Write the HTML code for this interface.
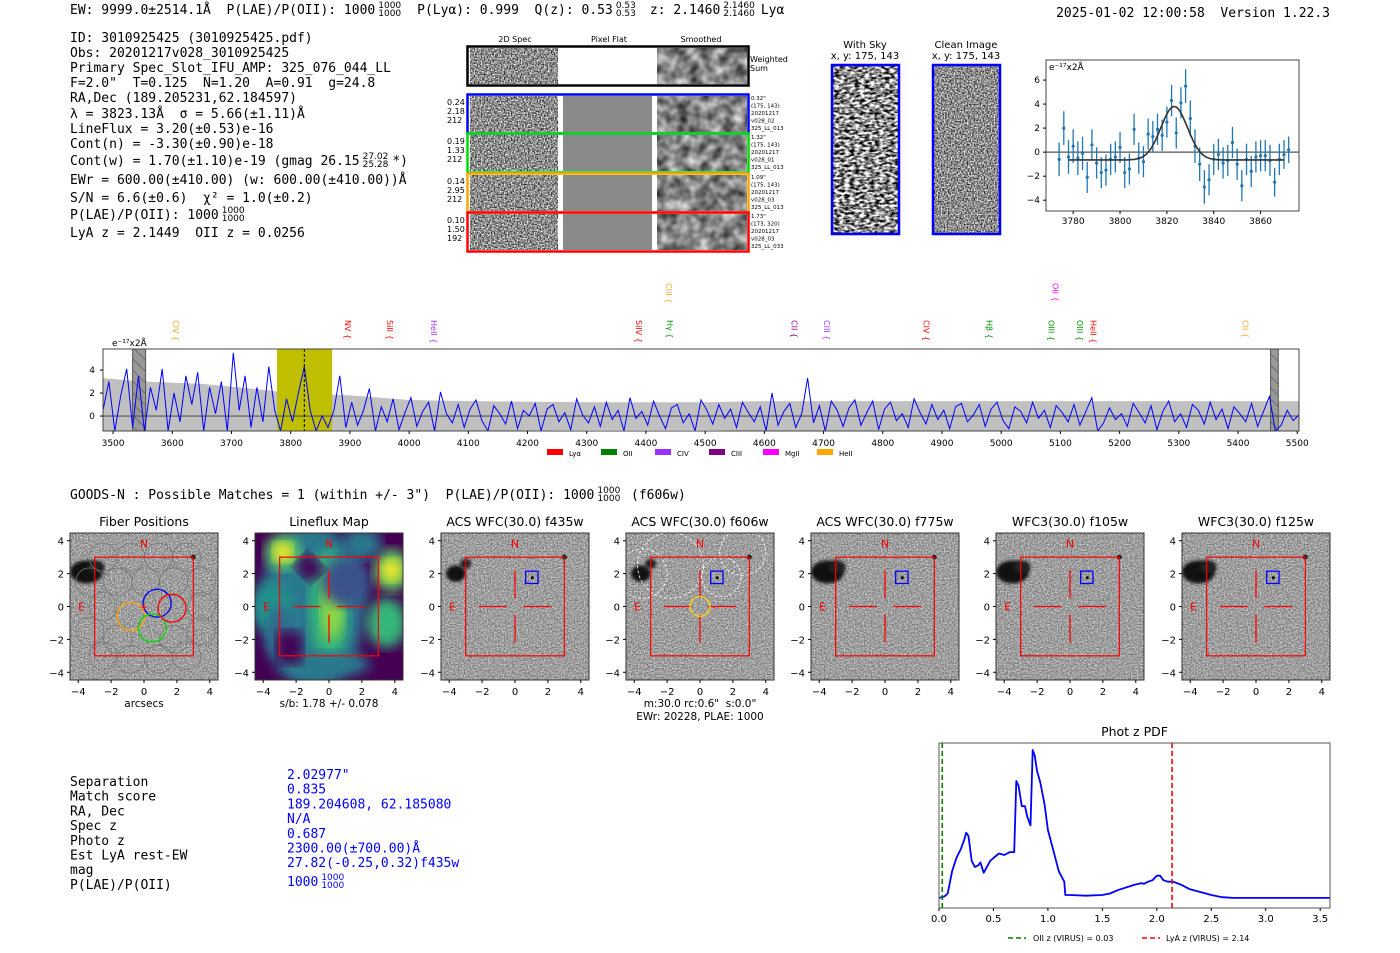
<!DOCTYPE html>
<html><head><meta charset="utf-8"><title>Detection report</title>
<style>
html,body{margin:0;padding:0;background:#fff;}
svg{display:block;}
text{white-space:pre;}
filter{color-interpolation-filters:sRGB;}
.mono{font-family:"DejaVu Sans Mono","Liberation Mono",monospace;font-size:13px;}
.sans{font-family:"DejaVu Sans","Liberation Sans",sans-serif;}
</style></head>
<body>
<svg id="root" width="1400" height="953" viewBox="0 0 1400 953" xmlns="http://www.w3.org/2000/svg" xml:space="preserve">
<defs>
<filter id="nz" x="0" y="0" width="100%" height="100%" color-interpolation-filters="sRGB"><feTurbulence type="fractalNoise" baseFrequency="0.7" numOctaves="1" seed="3"/><feColorMatrix type="matrix" values="1.8 0 0 0 -0.35  1.8 0 0 0 -0.35  1.8 0 0 0 -0.35  0 0 0 0 1"/></filter>
<filter id="nzs" x="0" y="0" width="100%" height="100%" color-interpolation-filters="sRGB"><feTurbulence type="fractalNoise" baseFrequency="0.09" numOctaves="2" seed="5"/><feColorMatrix type="matrix" values="1.0 0 0 0 0.02  1.0 0 0 0 0.02  1.0 0 0 0 0.02  0 0 0 0 1"/></filter>
<filter id="nzsky" x="0" y="0" width="100%" height="100%" color-interpolation-filters="sRGB"><feTurbulence type="fractalNoise" baseFrequency="0.2 0.4" numOctaves="2" seed="8"/><feColorMatrix type="matrix" values="2.6 0 0 0 -0.75  2.6 0 0 0 -0.75  2.6 0 0 0 -0.75  0 0 0 0 1"/></filter>
<filter id="nzc" x="0" y="0" width="100%" height="100%" color-interpolation-filters="sRGB"><feTurbulence type="fractalNoise" baseFrequency="0.7" numOctaves="1" seed="11"/><feColorMatrix type="matrix" values="0.8 0 0 0 0.22  0.8 0 0 0 0.22  0.8 0 0 0 0.22  0 0 0 0 1"/></filter>
<filter id="blur2"><feGaussianBlur stdDeviation="1.5"/></filter>
<filter id="blur6"><feGaussianBlur stdDeviation="6"/></filter>
<clipPath id="specclip"><rect x="103" y="349" width="1196" height="82"/></clipPath>
<clipPath id="pdfclip"><rect x="939" y="743" width="391" height="165"/></clipPath>
<pattern id="hatch" width="8" height="8" patternUnits="userSpaceOnUse" patternTransform="rotate(-45)"><rect width="8" height="8" fill="#999"/><line x1="0" y1="0" x2="0" y2="8" stroke="#444" stroke-width="1"/></pattern>
</defs>
</svg>
<script>
// ---------------- DATA ----------------
const gaussWave = [3774,3776,3778,3780,3782,3784,3786,3788,3790,3792,3794,3796,3798,3800,3802,3804,3806,3808,3810,3812,3814,3816,3818,3820,3822,3824,3826,3828,3830,3832,3834,3836,3838,3840,3842,3844,3846,3848,3850,3852,3854,3856,3858,3860,3862,3864,3866,3868,3870,3872];
const gaussFlux = [-0.6,2.0,-0.4,0.5,-0.5,-0.1,-2.1,0.6,-0.9,-1.7,-1.5,-0.6,-0.4,0.4,-1.7,-1.4,1.9,-0.5,-0.8,1.5,1.3,1.9,1.4,2.5,4.3,1.6,4.1,5.5,2.8,0.5,-1.0,-2.9,-2.3,-0.6,-0.2,-0.9,-0.7,0.8,-1.0,-2.8,-0.6,-1.6,-0.4,-0.3,-0.3,-0.7,-2.5,-0.6,-0.2,0.2];
const gaussErr = [1.4,1.4,1.4,1.4,1.4,1.4,1.3,1.3,1.3,1.3,1.3,1.3,1.3,1.3,1.3,1.3,1.3,1.3,1.3,1.3,1.3,1.3,1.3,1.3,1.3,1.3,1.3,1.4,1.5,1.4,1.4,1.4,1.3,1.3,1.3,1.3,1.3,1.3,1.3,1.3,1.3,1.3,1.3,1.3,1.3,1.3,1.2,1.3,1.2,1.1];
const gaussXTicks = [3780,3800,3820,3840,3860];
const gaussYTicks = [-4,-2,0,2,4,6];
const fitCenter = 3823.13, fitSigma = 5.66, fitAmp = 4.45, fitBase = -0.65;

const specStart = 3483, specStep = 10;
const specFlux = [0.5,3,-1.3,1.8,4.1,-1,3.5,-1.3,2.5,0.5,4.1,-1.3,2,-0.5,3.5,1,3.8,-1.3,2.5,0.2,3,-1.3,5.5,0.5,3.5,-1,2.5,-0.5,4.3,0.5,-1.3,1.5,-0.5,2,4.3,0.5,-1.3,0,-1,0.5,3.5,-1,
1.2,-0.8,0.5,2.4,-1.3,0.8,-0.5,1.5,-1.2,0.3,1.6,-0.9,0.4,1.2,-1.3,2.1,0.2,-0.6,1.0,-1.0,0.6,1.4,-0.4,-1.3,0.9,0.2,-0.7,1.3,-1.1,0.5,0.0,1.1,-1.3,0.6,1.0,-0.5,0.3,-1.2,1.5,0.1,-0.6,0.8,-0.9,1.2,-0.3,0.5,-1.3,1.6,-0.2,0.4,-0.8,1.3,0.0,-1.1,0.7,1.0,-0.6,0.2,-1.3,1.4,0.5,-0.7,1.0,-0.2,0.6,-1.0,1.2,0.3,-0.5,0.8,-1.3,2.0,-0.8,0.4,1.1,-1.0,0.2,3.3,-0.6,0.9,-1.3,1.3,0.5,-0.9,0.7,1.4,-0.8,0.3,1.3,-1.2,0.6,1.2,-0.4,0.2,-1.0,1.5,0.3,-0.7,1.0,-0.3,0.5,-1.1,0.8,1.1,-0.5,0.1,1.0,-0.9,0.6,1.2,-0.4,-1.1,0.8,0.4,-0.6,1.2,-0.2,0.5,-1.0,0.9,0.3,-0.5,1.0,-0.8,0.4,1.6,-1.3,-0.6,0.7,-0.3,0.2,
-0.9,1.1,0.3,-0.6,0.9,-1.2,0.4,1.3,-0.5,0.2,-1.0,1.0,0.5,-0.7,1.2,-0.3,0.6,-1.1,0.8,0.2,-0.5,1.1,-0.9,0.4,1.7,-1.3,-0.8,0.5,-0.4,0.1];
const errWave = [3483,3550,3650,3750,3800,3900,3950,4000,4100,4300,4500,4600,4800,5000,5200,5400,5503];
const errVal  = [3.3,3.0,2.8,2.3,2.0,1.8,1.6,1.4,1.3,1.2,1.2,1.3,1.3,1.3,1.3,1.3,1.3];
const specXTicks = [3500,3600,3700,3800,3900,4000,4100,4200,4300,4400,4500,4600,4700,4800,4900,5000,5100,5200,5300,5400,5500];
const specYTicks = [0,2,4];
const lineLabels = ["CIV","NV","SiII","HeII","SiIV","CIII","Hγ","CII","CIII","CIV","Hβ","OIII","OII","OIII","HeII","CII"];
const lineWaves  = [3606,3897,3968,4042,4388,4439,4441,4651,4706,4874,4980,5085,5092,5133,5156,5413];
const lineColors = ["#f5a623","#f00","#f00","#9b30ff","#f00","#f5a623","#090","#8b008b","#9b30ff","#f00","#090","#090","#f0f","#090","#f00","#f5a623"];
const lineHigh   = [0,0,0,0,0,1,0,0,0,0,0,0,1,0,0,0];
const legendNames = ["Lyα","OII","CIV","CIII","MgII","HeII"];
const legendColors = ["#f00","#008000","#9b30ff","#800080","#f0f","#ffa500"];

const pdfZ = [0,0.05,0.08,0.12,0.16,0.2,0.23,0.25,0.27,0.3,0.33,0.36,0.38,0.41,0.44,0.47,0.5,0.55,0.6,0.65,0.69,0.71,0.73,0.76,0.79,0.81,0.84,0.86,0.88,0.9,0.93,0.97,1.0,1.05,1.1,1.15,1.16,1.2,1.35,1.5,1.57,1.65,1.8,1.86,1.88,1.92,1.96,2.0,2.03,2.06,2.1,2.15,2.22,2.3,2.4,2.5,2.6,2.7,3.0,3.6];
const pdfP = [0.0,0.01,0.03,0.18,0.27,0.33,0.39,0.44,0.42,0.25,0.21,0.22,0.24,0.17,0.21,0.25,0.27,0.30,0.29,0.31,0.31,0.79,0.76,0.62,0.62,0.55,0.49,1.0,0.96,0.86,0.78,0.63,0.46,0.32,0.18,0.11,0.02,0.02,0.015,0.02,0.03,0.055,0.09,0.1,0.095,0.11,0.12,0.15,0.15,0.12,0.11,0.11,0.09,0.06,0.04,0.02,0.005,0.0,0.0,0.0];
const pdfXTicks = [0.0,0.5,1.0,1.5,2.0,2.5,3.0,3.5];
const oiiZ = 0.03, lyaZ = 2.14;

const cutTitles = ["Fiber Positions","Lineflux Map","ACS WFC(30.0) f435w","ACS WFC(30.0) f606w","ACS WFC(30.0) f775w","WFC3(30.0) f105w","WFC3(30.0) f125w"];
const cutTicks = [-4,-2,0,2,4];

const tableLabels = ["Separation","Match score","RA, Dec","Spec z","Photo z","Est LyA rest-EW","mag","P(LAE)/P(OII)"];
const tableValues = ["2.02977\"","0.835","189.204608, 62.185080","N/A","0.687","2300.00(±700.00)Å","27.82(-0.25,0.32)f435w","1000"];

// ---------------- HELPERS ----------------
const NS = "http://www.w3.org/2000/svg";
const root = document.getElementById('root');
function mk(tag, attrs, parent, txt){
  const e = document.createElementNS(NS, tag);
  for (const k in attrs) e.setAttribute(k, attrs[k]);
  if (txt !== undefined) e.textContent = txt;
  (parent || root).appendChild(e);
  return e;
}
function grp(name, parent){
  const g = mk('g', {}, parent);
  
  
  return g;
}
function txt(parent, x, y, s, cls, extra, name){
  const a = Object.assign({x:x, y:y}, extra||{});
  if (cls) a['class'] = cls;
  const t = mk('text', a, parent, s);
  
  
  return t;
}
function fracText(parent, x, y, main, top, bot, cls, fill, name){
  const t = txt(parent, x, y, main, cls, {fill:fill||'#000'}, name);
  const w = t.getComputedTextLength();
  const a = txt(parent, x+w+3, y-6, top, 'sans', {'font-size':9, fill: fill||'#000'}, name+'-upper');
  txt(parent, x+w+3, y+2, bot, 'sans', {'font-size':9, fill: fill||'#000'}, name+'-lower');
  return x+w+3+Math.max(a.getComputedTextLength(),10);
}

// ---------------- HEADER ----------------
const hdr = grp('header');
let x2 = fracText(hdr, 70, 14, "EW: 9999.0±2514.1Å  P(LAE)/P(OII): 1000", "1000","1000",'mono',null,'header-plae');
let x3 = fracText(hdr, x2+16, 14, "P(Lyα): 0.999  Q(z): 0.53", "0.53","0.53",'mono',null,'header-qz');
let x4 = fracText(hdr, x3+14, 14, "z: 2.1460", "2.1460","2.1460",'mono',null,'header-z');
txt(hdr, x4+6, 14, "Lyα", 'mono', {}, 'header-line');
txt(hdr, 1330, 17, "2025-01-02 12:00:58  Version 1.22.3", 'mono', {'text-anchor':'end'}, 'header-version');

// ---------------- INFO BLOCK ----------------
const info = grp('info-block');
const infoLines = [
 [42,"ID: 3010925425 (3010925425.pdf)"],[57,"Obs: 20201217v028_3010925425"],[72,"Primary Spec_Slot_IFU_AMP: 325_076_044_LL"],
 [87,"F=2.0\"  T=0.125  N=1.20  A=0.91  g=24.8"],[102,"RA,Dec (189.205231,62.184597)"],[118,"λ = 3823.13Å  σ = 5.66(±1.11)Å"],
 [133,"LineFlux = 3.20(±0.53)e-16"],[148,"Cont(n) = -3.30(±0.90)e-18"]];
infoLines.forEach(l=>txt(info,70,l[0],l[1],'mono',{},'info-line'));
let cx = fracText(info,70,165,"Cont(w) = 1.70(±1.10)e-19 (gmag 26.15","27.02","25.28",'mono',null,'info-cont-w');
txt(info,cx+4,165,"*)",'mono',{},'info-line');
txt(info,70,184,"EWr = 600.00(±410.00) (w: 600.00(±410.00))Å",'mono',{},'info-ewr');
txt(info,70,202,"S/N = 6.6(±0.6)  χ² = 1.0(±0.2)",'mono',{},'info-sn');
fracText(info,70,219,"P(LAE)/P(OII): 1000","1000","1000",'mono',null,'info-plae');
txt(info,70,237,"LyA z = 2.1449  OII z = 0.0256",'mono',{},'info-z');

// ---------------- 2D SPECTRA ----------------
const sp2 = grp('spectra-2d');
txt(sp2,515,42,"2D Spec",'sans',{'font-size':8,'text-anchor':'middle'},'col-2dspec');
txt(sp2,609,42,"Pixel Flat",'sans',{'font-size':8,'text-anchor':'middle'},'col-pixelflat');
txt(sp2,701,42,"Smoothed",'sans',{'font-size':8,'text-anchor':'middle'},'col-smoothed');
function cellRow(y,h,color,flatGray,name){
  const g = grp(name, sp2);
  mk('rect',{x:470,y:y,width:88,height:h,fill:'#888',filter:'url(#nz)'},g);
  if (flatGray) mk('rect',{x:563,y:y,width:89,height:h,fill:'#8a8a8a'},g);
  mk('rect',{x:657,y:y,width:90,height:h,fill:'#888',filter:'url(#nzs)'},g);
  const b = mk('rect',{x:467.5,y:y-1.5,width:281,height:h+3,fill:'none',stroke:color,'stroke-width':2.5},g);
   
}
cellRow(48,36,'#000',false,'weighted-sum-row');
txt(sp2,750,62,"Weighted",'sans',{'font-size':8},'weighted-label');
txt(sp2,750,71,"Sum",'sans',{'font-size':8},'weighted-label');
const rows = [[96,'#00f',["0.24","2.18","212"],["0.32\"","(175, 143)","20201217","v028_02","325_LL_013"]],
 [135,'#0d0',["0.19","1.33","212"],["1.32\"","(175, 143)","20201217","v028_01","325_LL_013"]],
 [175,'#ffa500',["0.14","2.95","212"],["1.09\"","(175, 143)","20201217","v028_03","325_LL_013"]],
 [214,'#f00',["0.10","1.50","192"],["1.73\"","(173, 320)","20201217","v028_03","325_LL_033"]]];
rows.forEach((r,i)=>{
  cellRow(r[0],36,r[1],true,'fiber-row-'+(i+1));
  r[2].forEach((s,j)=>txt(sp2,447,r[0]+9+j*9,s,'sans',{'font-size':8},'fiber-stat'));
  r[3].forEach((s,j)=>txt(sp2,751,r[0]+4+j*7.5,s,'sans',{'font-size':5.5},'fiber-info'));
});

// sky / clean
const sk = grp('sky-images');
txt(sk,865,48,"With Sky",'sans',{'font-size':10,'text-anchor':'middle'},'with-sky-title');
txt(sk,865,59,"x, y: 175, 143",'sans',{'font-size':10,'text-anchor':'middle'},'with-sky-coords');
mk('rect',{x:832,y:65,width:67,height:169,fill:'#888',filter:'url(#nzsky)'},sk);
mk('rect',{x:832,y:65,width:67,height:169,fill:'none',stroke:'#00f','stroke-width':2.5},sk);
txt(sk,966,48,"Clean Image",'sans',{'font-size':10,'text-anchor':'middle'},'clean-title');
txt(sk,966,59,"x, y: 175, 143",'sans',{'font-size':10,'text-anchor':'middle'},'clean-coords');
mk('rect',{x:933,y:65,width:67,height:169,fill:'#888',filter:'url(#nz)'},sk);
mk('rect',{x:933,y:65,width:67,height:169,fill:'none',stroke:'#00f','stroke-width':2.5},sk);

// ---------------- GAUSS FIT ----------------
(function(){
  const g = grp('line-fit-chart');
  const L=1046,R=1299,T=60,B=211, x0=3768.4,x1=3876.4,y0=-4.9,y1=7.67;
  const X=v=>L+(v-x0)/(x1-x0)*(R-L), Y=v=>B-(v-y0)/(y1-y0)*(B-T);
  mk('line',{x1:L,x2:R,y1:Y(0),y2:Y(0),stroke:'#555','stroke-width':1.2},g);
  gaussWave.forEach((w,i)=>{
    const e=mk('line',{x1:X(w),x2:X(w),y1:Y(gaussFlux[i]-gaussErr[i]),y2:Y(gaussFlux[i]+gaussErr[i]),stroke:'#1f77b4','stroke-width':1.3},g);
     
    const c=mk('circle',{cx:X(w),cy:Y(gaussFlux[i]),r:1.6,fill:'#1f77b4'},g);
     
  });
  let d='';
  for(let w=3778; w<=3870; w+=0.5){const v=fitBase+fitAmp*Math.exp(-0.5*Math.pow((w-fitCenter)/fitSigma,2)); d+=(d?'L':'M')+X(w).toFixed(1)+','+Y(v).toFixed(1);}
  const p=mk('path',{d:d,fill:'none',stroke:'#333','stroke-width':1.6},g);
   
  mk('rect',{x:L,y:T,width:R-L,height:B-T,fill:'none',stroke:'#444','stroke-width':1},g);
  gaussXTicks.forEach(t=>{mk('line',{x1:X(t),x2:X(t),y1:B,y2:B+3,stroke:'#000'},g);txt(g,X(t),B+13,String(t),'sans',{'font-size':9,'text-anchor':'middle'},'x-tick-label');});
  gaussYTicks.forEach(t=>{mk('line',{x1:L-3,x2:L,y1:Y(t),y2:Y(t),stroke:'#000'},g);txt(g,L-6,Y(t)+3,(t<0?'−':'')+Math.abs(t),'sans',{'font-size':9,'text-anchor':'end'},'y-tick-label');});
  txt(g,L+3,T+10,"e⁻¹⁷x2Å",'sans',{'font-size':9},'y-unit-label');
})();

// ---------------- 1D SPECTRUM ----------------
(function(){
  const g = grp('full-spectrum-chart');
  const L=103,R=1299,T=349,B=431, x0=3483,x1=5503,y0=-1.3,y1=5.83;
  const X=v=>L+(v-x0)/(x1-x0)*(R-L), Y=v=>B-(v-y0)/(y1-y0)*(B-T);
  const c = grp('spectrum-plot-area', g); c.setAttribute('clip-path','url(#specclip)');
  let up='',dn='';
  errWave.forEach((w,i)=>{up+=(up?'L':'M')+X(w)+','+Y(errVal[i]);});
  for(let i=errWave.length-1;i>=0;i--) dn+='L'+X(errWave[i])+','+Y(-errVal[i]);
  const band=mk('path',{d:up+dn+'Z',fill:'#c0c0c0'},c);
   
  const yb=mk('rect',{x:X(3777),y:T,width:X(3870)-X(3777),height:B-T,fill:'#bfbf00'},c);
   
  [[3533,3555],[5455,5468]].forEach(m=>{const r=mk('rect',{x:X(m[0]),y:T,width:X(m[1])-X(m[0]),height:B-T,fill:'url(#hatch)',stroke:'#555'},c);});
  mk('line',{x1:L,x2:R,y1:Y(0),y2:Y(0),stroke:'#555','stroke-width':1.2},c);
  let d='';
  specFlux.forEach((v,i)=>{d+=(d?'L':'M')+X(specStart+i*specStep).toFixed(1)+','+Y(v).toFixed(1);});
  const p=mk('path',{d:d,fill:'none',stroke:'#00f','stroke-width':1},c);
   
  mk('line',{x1:X(3823),x2:X(3823),y1:T,y2:B,stroke:'#000','stroke-dasharray':'3,2','stroke-width':1},c);
  mk('rect',{x:L,y:T,width:R-L,height:B-T,fill:'none',stroke:'#444','stroke-width':1},g);
  specXTicks.forEach(t=>{mk('line',{x1:X(t),x2:X(t),y1:B,y2:B+3,stroke:'#000'},g);txt(g,X(t),B+15,String(t),'sans',{'font-size':9,'text-anchor':'middle'},'x-tick-label');});
  specYTicks.forEach(t=>{mk('line',{x1:L-3,x2:L,y1:Y(t),y2:Y(t),stroke:'#000'},g);txt(g,L-8,Y(t)+3,String(t),'sans',{'font-size':9,'text-anchor':'end'},'y-tick-label');});
  txt(g,112,346,"e⁻¹⁷x2Å",'sans',{'font-size':9},'y-unit-label');
  lineLabels.forEach((s,i)=>{
    const x=X(lineWaves[i]), yt= lineHigh[i]?283:320;
    txt(g,0,0,s+' {','sans',{'font-size':8,fill:lineColors[i],transform:'translate('+(x-3)+','+yt+') rotate(90)'},'emission-line-label');
  });
  legendNames.forEach((s,i)=>{
    const lx=547+i*54;
    const r=mk('rect',{x:lx,y:449,width:16,height:6,fill:legendColors[i]},g);
     
    txt(g,lx+22,456,s,'sans',{'font-size':7},'legend-entry');
  });
})();

// ---------------- CUTOUTS ----------------
const cut = grp('cutouts');
fracText(cut,70,499,"GOODS-N : Possible Matches = 1 (within +/- 3\")  P(LAE)/P(OII): 1000","1000","1000",'mono',null,'catalog-header');
txt(cut,631,499,"(f606w)",'mono',{},'catalog-filter');
const panelX=[70,255,441,626,811,996,1182];
panelX.forEach((px,i)=>{
  const g=grp('cutout-'+(i+1),cut);
  const W=148,T=533,H=147, cxp=px+W/2, cyp=T+H/2, s=W/9;
  const X=v=>cxp+v*s, Y=v=>cyp-v*s;
  const clipId='cc'+i; const cp=mk('clipPath',{id:clipId},g); mk('rect',{x:px,y:T,width:W,height:H},cp);
  const ig=mk('g',{'clip-path':'url(#'+clipId+')'},g);
  if(i===1){
    mk('rect',{x:px,y:T,width:W,height:H,fill:'#440154'},ig);
    const blobs=[[-1,0,3.2,5,'#2a788e'],[0,0,1.2,3.5,'#35b779'],[0.2,0,0.7,2,'#90d743'],[1,1.5,1.5,1.5,'#3b528b'],[-3.5,0,1.3,1.5,'#21918c'],[-2.8,3.3,1.1,1.1,'#5ec962'],[-2.8,3.3,0.6,0.6,'#fde725'],[3.8,2.2,1.1,1.3,'#5ec962'],[3.8,2.2,0.6,0.7,'#fde725'],[3.5,-1,1.2,1.5,'#35b779'],[0,-3.5,2.5,0.8,'#2a788e'],[2,3.8,1.2,1,'#2a788e'],[-3,-1.5,0.8,1.5,'#31688e']];
    blobs.forEach(b=>mk('ellipse',{cx:X(b[0]),cy:Y(b[1]),rx:b[2]*s,ry:b[3]*s,fill:b[4],filter:'url(#blur6)'},ig));
    mk('rect',{x:X(-2),y:Y(3),width:1.5*s,height:1.3*s,fill:'#440154',filter:'url(#blur6)',transform:'rotate(45 '+X(-1.2)+' '+Y(2.3)+')'},ig);
    mk('rect',{x:X(-3.2),y:Y(-1.5),width:1.6*s,height:2*s,fill:'#440154',filter:'url(#blur6)'},ig);
  } else {
    mk('rect',{x:px,y:T,width:W,height:H,fill:'#999',filter:'url(#nzc)'},ig);
    if(i===0||i>=4){
      mk('ellipse',{cx:X(-3.5),cy:Y(2.1),rx:1.0*s,ry:0.7*s,fill:'#111',filter:'url(#blur2)'},ig);
      mk('ellipse',{cx:X(-2.9),cy:Y(2.4),rx:0.5*s,ry:0.4*s,fill:'#222',filter:'url(#blur2)'},ig);
    } else {
      mk('ellipse',{cx:X(-3.6),cy:Y(2.0),rx:0.6*s,ry:0.5*s,fill:'#111',filter:'url(#blur2)'},ig);
      mk('ellipse',{cx:X(-3.0),cy:Y(2.6),rx:0.35*s,ry:0.3*s,fill:'#222',filter:'url(#blur2)'},ig);
    }
    mk('circle',{cx:X(3),cy:Y(3),r:2.5,fill:'#222'},ig);
    if(i===3){
      [[-3.5,2,1.5],[-1.8,2.5,2],[2.6,3.3,1.4],[1.3,1.8,1.2]].forEach(c=>mk('circle',{cx:X(c[0]),cy:Y(c[1]),r:c[2]*s,fill:'none',stroke:'#fff','stroke-dasharray':'3,2','stroke-width':0.8},ig));
    }
  }
  if(i===0){
    const fib=[[-2.5,3],[-0.8,3],[0.9,3],[2.6,3],[-3.3,1.5],[-1.6,1.5],[0.1,1.5],[1.8,1.5],[3.5,1.5],[-2.5,0],[3.5,0],[-3.3,-1.5],[-1.6,-2],[1.8,-2],[3.5,-1.5],[-2.5,-3],[-0.8,-3.2],[0.9,-3.2],[2.6,-3]];
    fib.forEach(f=>mk('circle',{cx:X(f[0]),cy:Y(f[1]),r:0.85*s,fill:'none',stroke:'#777','stroke-width':0.7},ig));
    [[0.8,0.2,'#00f'],[-0.8,-0.6,'#ffa500'],[0.5,-1.3,'#0d0'],[1.7,-0.1,'#f00']].forEach(f=>{const c=mk('circle',{cx:X(f[0]),cy:Y(f[1]),r:0.85*s,fill:'none',stroke:f[2],'stroke-width':1.3},ig);});
    txt(ig,X(0),Y(0)+4,"+",'sans',{'font-size':11,fill:'#f00','text-anchor':'middle'},'center-marker');
  }
  mk('rect',{x:X(-3),y:Y(3),width:6*s,height:6*s,fill:'none',stroke:'#f00','stroke-width':1.2},ig);
  if(i>0){
    mk('line',{x1:X(-2.2),x2:X(-0.5),y1:Y(0),y2:Y(0),stroke:'#f00','stroke-width':1.3},ig);
    mk('line',{x1:X(0.5),x2:X(2.2),y1:Y(0),y2:Y(0),stroke:'#f00','stroke-width':1.3},ig);
    mk('line',{x1:X(0),x2:X(0),y1:Y(2.2),y2:Y(0.5),stroke:'#f00','stroke-width':1.3},ig);
    mk('line',{x1:X(0),x2:X(0),y1:Y(-0.5),y2:Y(-2.2),stroke:'#f00','stroke-width':1.3},ig);
  }
  if(i>=2){
    mk('rect',{x:X(0.65),y:Y(2.15),width:0.75*s,height:0.75*s,fill:'none',stroke:'#00f','stroke-width':1.3},ig);
    mk('circle',{cx:X(1.05),cy:Y(1.75),r:1.5,fill:'#000'},ig);
  }
  if(i===3) mk('circle',{cx:X(0),cy:Y(0),r:0.6*s,fill:'none',stroke:'#ffd700','stroke-width':1.3},ig);
  txt(ig,X(0),Y(3.6),"N",'sans',{'font-size':11,fill:'#f00','text-anchor':'middle'},'north-label');
  txt(ig,X(-3.8),Y(0)+4,"E",'sans',{'font-size':11,fill:'#f00','text-anchor':'middle'},'east-label');
  mk('rect',{x:px,y:T,width:W,height:H,fill:'none',stroke:'#333','stroke-width':1},g);
  txt(g,cxp,526,cutTitles[i],'sans',{'font-size':12.5,'text-anchor':'middle'},'cutout-title');
  cutTicks.forEach(t=>{
    const lab=(t<0?'−':'')+Math.abs(t);
    mk('line',{x1:X(t),x2:X(t),y1:T+H,y2:T+H+3,stroke:'#000'},g);
    txt(g,X(t),T+H+15,lab,'sans',{'font-size':10,'text-anchor':'middle'},'x-tick-label');
    mk('line',{x1:px-3,x2:px,y1:Y(t),y2:Y(t),stroke:'#000'},g);
    txt(g,px-6,Y(t)+4,lab,'sans',{'font-size':10,'text-anchor':'end'},'y-tick-label');
  });
});
txt(cut,144,707,"arcsecs",'sans',{'font-size':10.5,'text-anchor':'middle'},'x-axis-title');
txt(cut,329,707,"s/b: 1.78 +/- 0.078",'sans',{'font-size':10.5,'text-anchor':'middle'},'lineflux-sb');
txt(cut,700,707,"m:30.0 rc:0.6\"  s:0.0\"",'sans',{'font-size':10.5,'text-anchor':'middle'},'cutout-meta');
txt(cut,700,720,"EWr: 20228, PLAE: 1000",'sans',{'font-size':10.5,'text-anchor':'middle'},'cutout-ewr');

// ---------------- TABLE ----------------
const tb = grp('match-table');
tableLabels.forEach((s,i)=>txt(tb,70,786+i*14.7,s,'mono',{},'table-label'));
tableValues.forEach((s,i)=>{
  const y=779+i*14.7;
  if(i===tableValues.length-1) fracText(tb,287,y+4,s,"1000","1000",'mono','#00f','table-value');
  else txt(tb,287,y,s,'mono',{fill:'#00f'},'table-value');
});

// ---------------- PDF ----------------
(function(){
  const g=grp('phot-z-pdf-chart');
  const L=939,R=1330,T=743,B=908, x0=0,x1=3.59, y0=-0.068,y1=1.047;
  const X=v=>L+(v-x0)/(x1-x0)*(R-L), Y=v=>B-(v-y0)/(y1-y0)*(B-T);
  txt(g,(L+R)/2,736,"Phot z PDF",'sans',{'font-size':12.5,'text-anchor':'middle'},'pdf-title');
  const c=mk('g',{'clip-path':'url(#pdfclip)'},g);
  let d='';
  pdfZ.forEach((z,i)=>{d+=(d?'L':'M')+X(z).toFixed(1)+','+Y(pdfP[i]).toFixed(1);});
  const p=mk('path',{d:d,fill:'none',stroke:'#00f','stroke-width':1.8,'stroke-linejoin':'round'},c);
   
  const a=mk('line',{x1:X(oiiZ),x2:X(oiiZ),y1:T,y2:B,stroke:'#008000','stroke-width':1.6,'stroke-dasharray':'5,3'},c);
   
  const b=mk('line',{x1:X(lyaZ),x2:X(lyaZ),y1:T,y2:B,stroke:'#f00','stroke-width':1.6,'stroke-dasharray':'5,3'},c);
   
  mk('rect',{x:L,y:T,width:R-L,height:B-T,fill:'none',stroke:'#555','stroke-width':1},g);
  pdfXTicks.forEach(t=>{mk('line',{x1:X(t),x2:X(t),y1:B,y2:B+3,stroke:'#000'},g);txt(g,X(t),B+14,t.toFixed(1),'sans',{'font-size':10,'text-anchor':'middle'},'x-tick-label');});
  mk('line',{x1:1008,x2:1026,y1:938,y2:938,stroke:'#008000','stroke-width':1.6,'stroke-dasharray':'5,3'},g);
  txt(g,1033,941,"OII z (VIRUS) = 0.03",'sans',{'font-size':8},'legend-entry');
  mk('line',{x1:1142,x2:1160,y1:938,y2:938,stroke:'#f00','stroke-width':1.6,'stroke-dasharray':'5,3'},g);
  txt(g,1166,941,"LyA z (VIRUS) = 2.14",'sans',{'font-size':8},'legend-entry');
})();
</script>
</body></html>
